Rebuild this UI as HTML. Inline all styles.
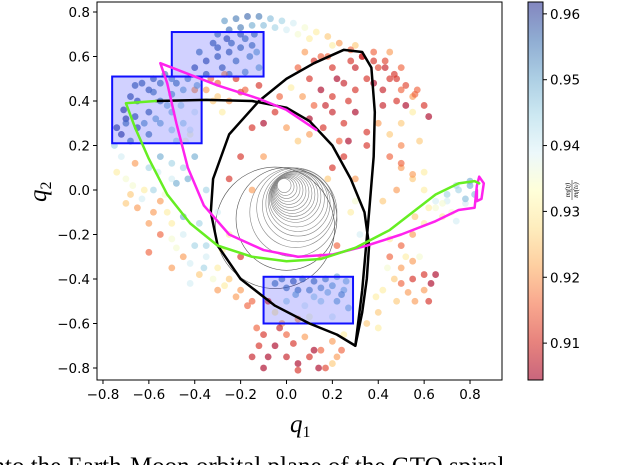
<!DOCTYPE html>
<html><head><meta charset="utf-8"><style>
body{margin:0;background:#fff}
svg{display:block;font-family:"DejaVu Sans","Liberation Sans",sans-serif}
</style></head><body>
<svg id="chart" width="640" height="465" viewBox="0 0 640 465" xmlns="http://www.w3.org/2000/svg">
<defs>
<linearGradient id="cbg" x1="0" y1="1" x2="0" y2="0"></linearGradient>
<clipPath id="clip"><rect x="97" y="2" width="405" height="378"/></clipPath>
</defs>
<g id="plot" clip-path="url(#clip)"></g>
<rect x="97" y="2" width="405" height="378" fill="none" stroke="#000" stroke-width="1"/>
<g id="axes"></g>
<text x="290" y="432" font-family="Liberation Serif,serif" font-style="italic" font-size="25">q<tspan font-size="16" dy="5" font-style="normal">1</tspan></text>
<text x="0" y="0" transform="translate(46,202) rotate(-90)" font-family="Liberation Serif,serif" font-style="italic" font-size="25">q<tspan font-size="16" dy="5" font-style="normal">2</tspan></text>
<rect x="528" y="2" width="15" height="378" fill="url(#cbg)" stroke="#000" stroke-width="1"/>
<g id="cbaxis"></g>
<g transform="translate(572,190) rotate(-90)" font-family="Liberation Serif,serif" font-style="italic" font-size="7">
<text x="0" y="-2" text-anchor="middle">m<tspan font-size="5">f</tspan>(t<tspan font-size="5">f</tspan>)</text>
<line x1="-10" y1="0" x2="10" y2="0" stroke="#000" stroke-width="0.5"/>
<text x="0" y="6" text-anchor="middle">m<tspan font-size="5">f</tspan>(t<tspan font-size="5">0</tspan>)</text>
</g>
<text x="-20" y="474" font-family="Liberation Serif,serif" font-size="25">onto the Earth-Moon orbital plane of the GTO spiral</text>
</svg>
<script>
const xTicks=[-0.8,-0.6,-0.4,-0.2,0.0,0.2,0.4,0.6,0.8];
const yTicks=[0.8,0.6,0.4,0.2,0.0,-0.2,-0.4,-0.6,-0.8];
const cTicks=[0.96,0.95,0.94,0.93,0.92,0.91];
const cMin=0.9044, cMax=0.9618;
const qx=[-0.3,-0.25,-0.2,-0.15,-0.1,-0.05,0,0.05,0.1,
-0.4,-0.35,-0.3,-0.25,-0.2,-0.15,-0.35,-0.28,-0.22,-0.16,-0.12,-0.18,-0.25,-0.13,
0.15,0.2,0.3,0.35,0.4,0.45,0.5,0.55,0.48,0.42,0.3,0.25,0.2,0.15,0.1,0.05,0.08,0.3,0.25,0.2,0.4,0.45,0.35,0.5,0.55,0.5,0.45,0.38,0.3,0.2,0.12,-0.05,-0.1,-0.15,0.0,0.05,-0.2,-0.25,-0.15,-0.1,
0.45,0.5,0.55,0.6,0.48,0.42,
0.65,0.7,0.75,0.8,0.82,0.78,0.72,0.68,0.6,0.55,0.5,
0.45,0.5,0.55,0.6,0.65,0.63,0.42,0.48,0.52,0.4,0.58,
-0.05,0.0,0.05,0.1,0.15,0.2,0.25,0.0,0.08,0.15,0.22,0.27,-0.05,0.1,0.2,0.05,-0.08,
-0.1,-0.05,0.0,0.05,0.1,0.15,0.2,-0.08,0.0,0.08,0.2,-0.12,0.25,
-0.55,-0.5,-0.45,-0.4,-0.35,-0.3,-0.25,-0.2,-0.15,-0.45,-0.38,-0.3,-0.55,-0.2,-0.25,-0.3,-0.35,
-0.72,-0.7,-0.68,-0.65,-0.6,-0.55,-0.5,-0.62,-0.58,-0.45,-0.4,
-0.72,-0.7,-0.65,-0.6,-0.55,-0.5,-0.65,-0.6,-0.55,-0.5,-0.45,-0.6,-0.55,-0.5,-0.45,-0.4,-0.42,-0.48,-0.68,-0.4,
-0.35,-0.3,-0.32,-0.28,-0.25,
0.25,0.3,0.28,0.22,0.15,0.32,
-0.27,-0.22,-0.17,-0.12,-0.07,-0.02,0.03,0.08,0.13,0.18,0.23,0.28,0.33,0.38,0.43,0.48,0.52,0.56,0.6,0.62,
-0.38,-0.32,-0.26,-0.2,-0.14,-0.3,-0.24,-0.18,
0.12,0.18,0.22,0.28,0.33,0.38,0.43,0.47,0.52,0.57,0.27,0.17,0.07,0.02,-0.03,0.35,0.42,0.5,0.58,0.1,0.16,0.23,
0.5,0.55,0.6,0.65,0.7,0.74,0.78,0.8,0.74,0.68,0.62,0.56,
0.45,0.5,0.55,0.6,0.47,0.53,0.44,0.39,0.56,0.62,0.35,0.4,
-0.02,0.03,0.07,0.12,0.17,0.22,0.26,0.04,0.12,0.18,0.24,-0.02,
-0.13,-0.03,0.03,0.12,0.17,0.22,-0.15,-0.1,0.05,0.14,0.24,
-0.6,-0.52,-0.48,-0.42,-0.36,-0.32,-0.27,-0.22,-0.17,-0.5,-0.42,-0.35,-0.28,-0.45,-0.38,-0.6,-0.5,
-0.75,-0.74,-0.7,-0.67,-0.63,-0.58,-0.53,-0.48,-0.66,-0.56,-0.5,-0.43,
-0.74,-0.71,-0.68,-0.63,-0.58,-0.53,-0.48,-0.43,-0.39,-0.7,-0.62,-0.57,-0.52,-0.46,-0.42,-0.66,-0.58,-0.5,-0.44,-0.66,
-0.33,-0.27,-0.22,-0.18,-0.12,-0.3,-0.2,
0.27,0.2,0.1,0.3,0.18];
const qy=[0.7,0.72,0.73,0.74,0.74,0.73,0.72,0.7,0.68,
0.55,0.58,0.6,0.62,0.64,0.65,0.52,0.55,0.58,0.6,0.55,0.53,0.52,0.62,
0.6,0.55,0.55,0.5,0.55,0.5,0.45,0.42,0.4,0.45,0.45,0.48,0.42,0.45,0.5,0.55,0.62,0.35,0.3,0.35,0.3,0.25,0.2,0.3,0.35,0.55,0.62,0.62,0.65,0.65,0.38,0.35,0.3,0.28,0.28,0.22,0.15,0.05,0.0,0.15,
0.15,0.1,0.05,0.0,0.0,-0.05,
-0.05,-0.02,0.0,0.02,-0.02,-0.06,-0.1,-0.12,-0.15,-0.2,-0.25,
-0.3,-0.35,-0.4,-0.45,-0.38,-0.42,-0.45,-0.5,-0.3,-0.55,-0.3,
-0.42,-0.44,-0.45,-0.45,-0.44,-0.43,-0.45,-0.5,-0.52,-0.5,-0.5,-0.53,-0.55,-0.57,-0.57,-0.58,-0.5,
-0.65,-0.7,-0.75,-0.78,-0.75,-0.72,-0.68,-0.75,-0.65,-0.66,-0.78,-0.7,-0.65,
-0.05,-0.15,-0.2,-0.25,-0.3,-0.35,-0.4,-0.45,-0.5,-0.3,-0.38,-0.45,-0.2,-0.3,-0.2,-0.1,0.0,
0.15,0.05,-0.02,-0.08,0.1,0.15,0.05,0.0,-0.1,0.1,0.15,
0.25,0.32,0.4,0.45,0.48,0.5,0.28,0.35,0.4,0.43,0.45,0.25,0.3,0.35,0.3,0.35,0.25,0.22,0.22,0.45,
0.45,0.48,0.4,0.35,0.4,
0.15,0.05,-0.1,-0.25,-0.3,-0.2,
0.76,0.77,0.78,0.78,0.77,0.76,0.75,0.73,0.71,0.69,0.66,0.63,0.6,0.58,0.55,0.5,0.47,0.43,0.38,0.33,
0.62,0.66,0.68,0.7,0.7,0.64,0.66,0.68,
0.58,0.6,0.5,0.58,0.6,0.48,0.58,0.52,0.38,0.45,0.4,0.38,0.42,0.46,0.42,0.26,0.38,0.2,0.22,0.32,0.28,0.22,
0.12,0.07,0.08,-0.08,-0.05,0.02,-0.04,0.04,-0.14,-0.06,-0.08,-0.12,
-0.22,-0.42,-0.32,-0.38,-0.4,-0.46,-0.35,-0.48,-0.5,-0.5,-0.6,-0.62,
-0.4,-0.41,-0.4,-0.41,-0.4,-0.39,-0.41,-0.47,-0.48,-0.46,-0.47,-0.6,
-0.62,-0.62,-0.69,-0.72,-0.8,-0.75,-0.75,-0.8,-0.81,-0.8,-0.72,
-0.28,-0.1,-0.26,-0.33,-0.35,-0.4,-0.43,-0.48,-0.52,-0.35,-0.42,-0.25,-0.27,-0.12,-0.15,-0.15,-0.22,
0.2,0.08,-0.06,0.02,-0.04,0.0,-0.02,0.03,0.12,0.08,0.12,0.05,
0.28,0.36,0.42,0.48,0.5,0.52,0.48,0.5,0.47,0.3,0.3,0.32,0.38,0.38,0.27,0.33,0.44,0.27,0.22,0.47,
0.5,0.52,0.5,0.45,0.47,0.42,0.44,
0.22,0.1,0.25,-0.05,0.05];
const mass=[.955,.956,.955,.95,.948,.945,.94,.935,.93,
.958,.958,.957,.957,.956,.955,.957,.957,.955,.953,.95,.952,.955,.95,
.915,.91,.908,.91,.912,.91,.915,.92,.91,.908,.91,.908,.91,.905,.91,.915,.92,.905,.91,.908,.92,.925,.91,.925,.93,.915,.92,.915,.925,.93,.915,.91,.905,.91,.92,.925,.91,.91,.92,.92,
.915,.92,.925,.93,.92,.925,
.94,.945,.945,.95,.948,.94,.935,.93,.93,.92,.915,
.915,.92,.91,.92,.905,.905,.93,.925,.93,.925,.935,
.955,.955,.955,.953,.952,.95,.948,.945,.94,.945,.95,.948,.93,.935,.94,.92,.91,
.91,.905,.908,.905,.91,.915,.92,.905,.915,.92,.925,.91,.93,
.92,.93,.94,.945,.94,.93,.925,.92,.915,.92,.925,.92,.915,.91,.93,.94,.945,
.94,.935,.925,.92,.945,.95,.94,.93,.92,.945,.95,
.96,.96,.958,.957,.955,.953,.958,.957,.955,.952,.95,.955,.95,.948,.945,.94,.935,.945,.955,.92,
.92,.915,.925,.93,.92,
.91,.92,.93,.915,.92,.94,
.952,.955,.957,.955,.948,.945,.94,.935,.93,.925,.92,.915,.912,.91,.908,.91,.912,.915,.91,.905,
.955,.957,.958,.957,.955,.957,.956,.955,
.91,.915,.905,.91,.908,.905,.912,.91,.905,.915,.91,.908,.92,.93,.915,.91,.908,.918,.925,.905,.91,.915,
.915,.92,.93,.935,.94,.945,.948,.95,.94,.935,.93,.925,
.93,.915,.92,.91,.925,.92,.935,.93,.92,.91,.925,.93,
.955,.957,.956,.955,.953,.95,.948,.95,.945,.948,.952,.92,
.915,.908,.91,.905,.912,.92,.908,.905,.91,.905,.915,
.915,.93,.935,.94,.945,.935,.93,.92,.915,.92,.94,.945,.93,.95,.945,.92,.935,
.945,.93,.925,.935,.94,.945,.935,.95,.92,.94,.945,.95,
.96,.96,.958,.957,.957,.956,.955,.953,.95,.955,.952,.95,.948,.945,.94,.958,.955,.945,.935,.957,
.915,.92,.91,.915,.91,.925,.912,
.905,.91,.92,.935,.925];
// lines
const teardropX=[0.30,0.33,0.36,0.38,0.385,0.37,0.33,0.25,0.12,0.0,-0.12,-0.25,-0.32,-0.33,-0.3,-0.2,-0.05,0.1,0.22,0.30];
const teardropY=[-0.70,-0.45,-0.1,0.15,0.35,0.55,0.62,0.63,0.57,0.5,0.4,0.25,0.05,-0.1,-0.25,-0.4,-0.52,-0.6,-0.65,-0.70];
const blackArcX=[-0.57,-0.35,-0.15,0.0,0.1,0.2,0.28,0.34,0.36,0.35,0.33,0.31,0.30];
const blackArcY=[0.40,0.405,0.40,0.37,0.31,0.2,0.05,-0.1,-0.25,-0.4,-0.55,-0.65,-0.70];
const greenX=[-0.57,-0.7,-0.66,-0.6,-0.52,-0.42,-0.3,-0.15,0.0,0.15,0.3,0.45,0.55,0.65,0.75,0.82,0.84];
const greenY=[0.40,0.39,0.28,0.14,-0.02,-0.15,-0.25,-0.3,-0.32,-0.31,-0.26,-0.18,-0.1,-0.02,0.03,0.04,0.03];
const magentaX=[0.13,0.0,-0.12,-0.3,-0.45,-0.55,-0.52,-0.48,-0.43,-0.36,-0.25,-0.1,0.05,0.2,0.35,0.5,0.65,0.75,0.82,0.83,0.84,0.86,0.85,0.83,0.83];
const magentaY=[0.27,0.36,0.41,0.47,0.53,0.57,0.48,0.3,0.1,-0.07,-0.2,-0.27,-0.3,-0.29,-0.25,-0.2,-0.14,-0.09,-0.08,0.02,0.06,0.03,-0.04,-0.05,0.0];
const boxX0=[-0.5,-0.76,-0.1], boxX1=[-0.1,-0.37,0.29];
const boxY0=[0.51,0.21,-0.6], boxY1=[0.71,0.51,-0.39];
const spiralR=[0.03,0.038,0.046,0.054,0.062,0.07,0.078,0.086,0.094,0.102,0.11,0.12,0.13,0.14,0.155,0.17,0.19,0.22,0.26];
const spiralCx=[-0.01,-0.005,0.0,0.005,0.01,0.015,0.02,0.025,0.03,0.035,0.04,0.045,0.05,0.05,0.05,0.04,0.03,0.0,-0.05];
const spiralCy=[0.02,0.015,0.01,0.005,0.0,-0.005,-0.01,-0.015,-0.02,-0.025,-0.03,-0.04,-0.05,-0.06,-0.07,-0.08,-0.1,-0.13,-0.17];

const NS='http://www.w3.org/2000/svg';
const sx=v=>286.5+229.4*v, sy=v=>190-222.5*v;
const cy=v=>380-(v-cMin)/(cMax-cMin)*378;
const stops=[[165,0,38],[215,48,39],[244,109,67],[253,174,97],[254,224,144],[255,255,191],[224,243,248],[171,217,233],[116,173,209],[69,117,180],[49,54,149]];
function cmap(v){let t=Math.max(0,Math.min(1,(v-cMin)/(cMax-cMin)))*10;let i=Math.min(9,Math.floor(t)),f=t-i;const a=stops[i],b=stops[i+1];return 'rgb('+a.map((c,k)=>Math.round(c+(b[k]-c)*f)).join(',')+')';}
function mk(tag,attrs,parent){const e=document.createElementNS(NS,tag);for(const k in attrs)e.setAttribute(k,attrs[k]);parent.appendChild(e);return e;}
const plot=document.getElementById('plot'), axes=document.getElementById('axes');
const grad=document.getElementById('cbg');
for(let i=0;i<=10;i++){mk('stop',{offset:i/10,'stop-color':'rgb('+stops[i].join(',')+')','stop-opacity':0.6},grad);}
// spiral
const sg=mk('g',{},plot);


spiralR.forEach((r,i)=>{const e=mk('ellipse',{cx:sx(spiralCx[i]),cy:sy(spiralCy[i]),rx:r*229.4,ry:r*222.5*1.05,fill:'none',stroke:i>16?'#555':'#888','stroke-width':0.6},sg);

});
// scatter
const dg=mk('g',{},plot);


qx.forEach((x,i)=>{const c=mk('circle',{cx:sx(x),cy:sy(qy[i]),r:3.4,fill:cmap(mass[i]),'fill-opacity':0.65},dg);

});
// boxes
boxX0.forEach((x,i)=>{const r=mk('rect',{x:sx(x),y:sy(boxY1[i]),width:sx(boxX1[i])-sx(x),height:sy(boxY0[i])-sy(boxY1[i]),fill:'rgba(0,0,255,0.18)',stroke:'#1010ff','stroke-width':2},plot);

});
function line(X,Y,col,w,name){const p=mk('polyline',{points:X.map((x,i)=>sx(x)+','+sy(Y[i])).join(' '),fill:'none',stroke:col,'stroke-width':w,'stroke-linejoin':'round','stroke-linecap':'round'},plot);

}
line(teardropX,teardropY,'#000',2.5,'black-teardrop-orbit');
line(blackArcX,blackArcY,'#000',2.5,'black-arc-trajectory');
line(magentaX,magentaY,'#ff22ee',2.5,'magenta-trajectory');
line(greenX,greenY,'#66ee22',2.5,'green-trajectory');
// axes ticks
xTicks.forEach(v=>{const x=sx(v);const l=mk('line',{x1:x,x2:x,y1:380,y2:384,stroke:'#000'},axes);


const t=mk('text',{x:x,y:399,'text-anchor':'middle','font-size':13.5},axes);t.textContent=v.toFixed(1).replace('-','\u2212');

});
yTicks.forEach(v=>{const y=sy(v);const l=mk('line',{x1:93,x2:97,y1:y,y2:y,stroke:'#000'},axes);


const t=mk('text',{x:90,y:y+5,'text-anchor':'end','font-size':13.5},axes);t.textContent=v.toFixed(1).replace('-','\u2212');

});
const cb=document.getElementById('cbaxis');
cTicks.forEach(v=>{const y=cy(v);const l=mk('line',{x1:543,x2:547,y1:y,y2:y,stroke:'#000'},cb);


const t=mk('text',{x:550,y:y+5,'font-size':13.5},cb);t.textContent=v.toFixed(2);

});
</script>
</body></html>
